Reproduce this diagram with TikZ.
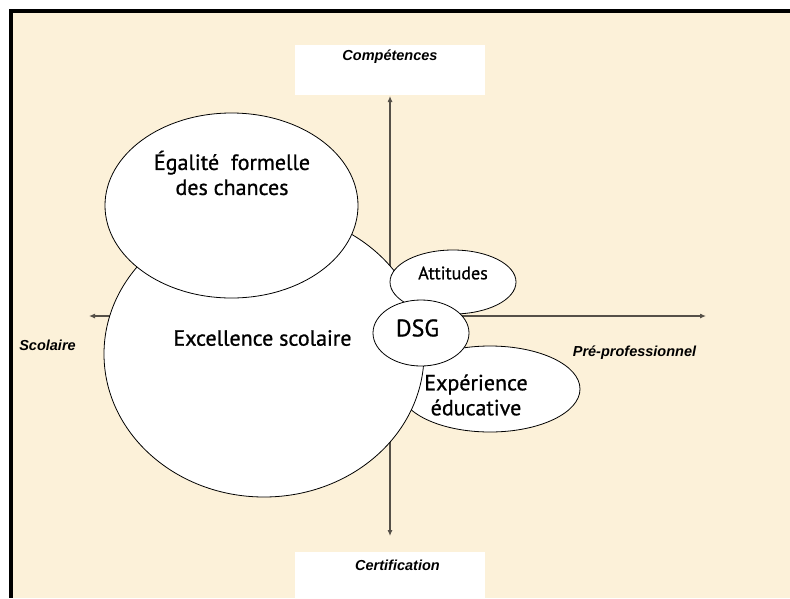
\documentclass[tikz,border=0pt]{standalone}
\usepackage{fontspec}
\setmainfont{PT Sans}
\newfontfamily\bubfont[FakeBold=0.9]{PT Sans}
\newfontfamily\labelfont{Liberation Sans}
\usetikzlibrary{arrows.meta,shapes.geometric}
\definecolor{parchment}{RGB}{252,241,217}
\definecolor{axisgray}{RGB}{85,80,72}
\begin{document}
\begin{tikzpicture}[x=1pt,y=-1pt,
  axisline/.style={draw=axisgray, line width=1.1pt, -{Latex[length=6pt,width=5pt]}},
  bubble/.style={ellipse, draw=black, line width=0.8pt, fill=white, inner sep=0pt},
  bubtext/.style={font=\bubfont\fontsize{22}{25}\selectfont, align=center, inner sep=0pt},
  axlabel/.style={font=\labelfont\bfseries\itshape\fontsize{14.5}{16}\selectfont, inner sep=0pt},
  labelbox/.style={fill=white, draw=none}
]
% canvas
\useasboundingbox (0,0) rectangle (790,598);
\fill[white] (0,0) rectangle (790,598);
\fill[parchment] (9,9) rectangle (790,598);
\fill[black] (9,9) rectangle (790,13.3);
\fill[black] (9,9) rectangle (13.3,598);

% label boxes
\fill[labelbox] (295,45) rectangle (485,95);
\fill[labelbox] (295,552) rectangle (485,598);
\node[axlabel] (comp) at (390,57) {Compétences};
\node[axlabel] (cert) at (397.5,565) {Certification};
\node[axlabel] (scol) at (47.5,345) {Scolaire};
\node[axlabel] (prepro) at (634.5,353) {Pré-professionnel};

% axes
\coordinate (O) at (390,316);
\coordinate (up) at (390,96);
\coordinate (down) at (390,536);
\coordinate (left) at (89,316);
\coordinate (right) at (706,316);
\draw[axisline] (O) -- (up);
\draw[axisline] (O) -- (down);
\draw[axisline] (O) -- (left);
\draw[axisline] (O) -- (right);

% bubbles (back to front)
\node[bubble, minimum width=180pt, minimum height=86pt] (exp) at (490,389) {};
\node[bubble, minimum width=320pt, minimum height=286pt] (exc) at (264,354) {};
\node[bubble, minimum width=253pt, minimum height=185pt] (ega) at (231.5,205.5) {};
\node[bubble, minimum width=126pt, minimum height=64pt] (att) at (453,282) {};
\node[bubble, minimum width=96pt, minimum height=66pt] (dsg) at (421,333) {};

% texts
\node[bubtext] (egat) at (232,173) {Égalité\ \ formelle\\des chances};
\node[bubtext] (exct) at (262.5,338) {Excellence scolaire};
\node[bubtext, font=\bubfont\fontsize{18}{20}\selectfont] (attt) at (453,273) {Attitudes};
\node[bubtext, font=\bubfont\fontsize{24}{26}\selectfont] (dsgt) at (417.5,328) {DSG};
\node[bubtext] (expt) at (476,395) {Expérience\\éducative};
\end{tikzpicture}
\end{document}
